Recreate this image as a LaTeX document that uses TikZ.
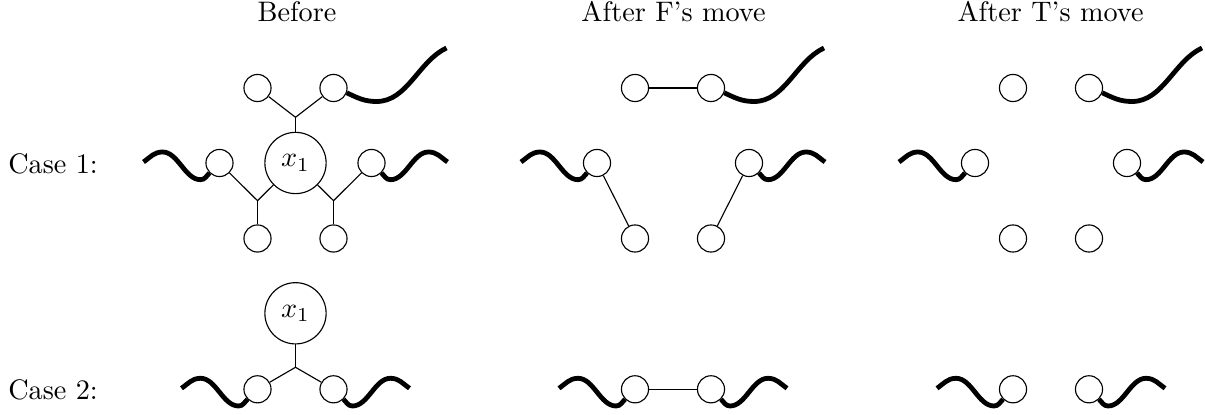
\documentclass[tikz,border=0pt]{standalone}
\usetikzlibrary{calc}
\tikzset{
  dot/.style={circle, draw, line width=0.4pt, minimum size=9.6pt, inner sep=0pt},
  var/.style={circle, draw, line width=0.4pt, minimum size=21.7pt, inner sep=0pt},
  edge/.style={line width=0.4pt},
  wave/.style={line width=1.7pt, line cap=butt},
  title/.style={anchor=base, inner sep=0pt},
  caselabel/.style={anchor=base west, inner sep=0pt},
}
\newcommand\leftwave[1]{\draw[wave] (#1.south west) to[out=225,in=0] ($(#1)+(-19,-16.7)$) to[out=180,in=0,looseness=0.85] ($(#1)+(-57,11)$) to[out=180,in=35] ($(#1)+(-76,1)$);}
\newcommand\rightwave[1]{\draw[wave] (#1.south east) to[out=-45,in=180] ($(#1)+(19,-16.7)$) to[out=0,in=180,looseness=0.85] ($(#1)+(57,11)$) to[out=0,in=145] ($(#1)+(76,1)$);}
\newcommand\topwave[1]{\draw[wave] (#1.-20) to[out=-25,in=180] ($(#1)+(43,-13.5)$) to[out=0,in=205,looseness=0.9] ($(#1)+(113,40)$);}
\begin{document}
\begin{tikzpicture}[x=0.35425pt, y=0.35425pt]
\useasboundingbox (0,0) rectangle (1205,-415);
% titles
\node[title] (t1) at (297,-21.7) {Before};
\node[title] (t2) at (673.5,-21.7) {After F's move};
\node[title] (t3) at (1050.5,-21.7) {After T's move};
\node[caselabel] (c1) at (7.7,-173.3) {Case 1:};
\node[caselabel] (c2) at (7.7,-399.3) {Case 2:};

% ---------- Before, case 1
\node[dot] (a1t1) at (257.5,-88) {};
\node[dot] (a1t2) at (333.5,-88) {};
\node[dot] (a1m1) at (219.5,-163) {};
\node[dot] (a1m2) at (371.5,-163) {};
\node[dot] (a1b1) at (257.5,-238.5) {};
\node[dot] (a1b2) at (333.5,-238.5) {};
\node[var] (a1x) at (295.5,-163) {$x_1$};
\coordinate (a1jt) at (295.5,-117.3);
\coordinate (a1jl) at (257.5,-200.7);
\coordinate (a1jr) at (333.5,-200.7);
\draw[edge] (a1t1) -- (a1jt) -- (a1t2);
\draw[edge] (a1jt) -- (a1x);
\draw[edge] (a1m1) -- (a1jl) -- (a1x);
\draw[edge] (a1jl) -- (a1b1);
\draw[edge] (a1m2) -- (a1jr) -- (a1x);
\draw[edge] (a1jr) -- (a1b2);
\topwave{a1t2}
\leftwave{a1m1}
\rightwave{a1m2}

% ---------- Before, case 2
\node[var] (a2x) at (295.5,-313.3) {$x_1$};
\node[dot] (a2l) at (257.5,-389.3) {};
\node[dot] (a2r) at (333.5,-389.3) {};
\coordinate (a2j) at (295.5,-367.3);
\draw[edge] (a2x) -- (a2j);
\draw[edge] (a2l) -- (a2j) -- (a2r);
\leftwave{a2l}
\rightwave{a2r}

% ---------- After F, case 1
\node[dot] (b1t1) at (635,-88) {};
\node[dot] (b1t2) at (711,-88) {};
\node[dot] (b1m1) at (597,-163) {};
\node[dot] (b1m2) at (749,-163) {};
\node[dot] (b1b1) at (635,-238.5) {};
\node[dot] (b1b2) at (711,-238.5) {};
\draw[edge] (b1t1) -- (b1t2);
\draw[edge] (b1m1) -- (b1b1);
\draw[edge] (b1m2) -- (b1b2);
\topwave{b1t2}
\leftwave{b1m1}
\rightwave{b1m2}

% ---------- After F, case 2
\node[dot] (b2l) at (635,-389.3) {};
\node[dot] (b2r) at (711,-389.3) {};
\draw[edge] (b2l) -- (b2r);
\leftwave{b2l}
\rightwave{b2r}

% ---------- After T, case 1
\node[dot] (c1t1) at (1013,-88) {};
\node[dot] (c1t2) at (1089,-88) {};
\node[dot] (c1m1) at (975,-163) {};
\node[dot] (c1m2) at (1127,-163) {};
\node[dot] (c1b1) at (1013,-238.5) {};
\node[dot] (c1b2) at (1089,-238.5) {};
\topwave{c1t2}
\leftwave{c1m1}
\rightwave{c1m2}

% ---------- After T, case 2
\node[dot] (c2l) at (1013,-389.3) {};
\node[dot] (c2r) at (1089,-389.3) {};
\leftwave{c2l}
\rightwave{c2r}
\end{tikzpicture}
\end{document}
